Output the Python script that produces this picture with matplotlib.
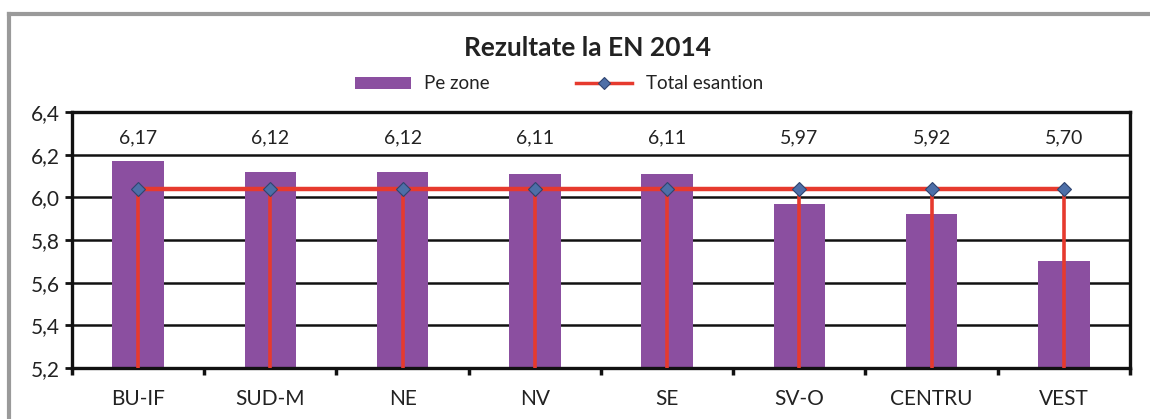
import matplotlib
matplotlib.use("Agg")
import matplotlib.pyplot as plt
from matplotlib.lines import Line2D
from matplotlib.patches import Patch
import numpy as np

plt.rcParams['font.family'] = ['Lato', 'DejaVu Sans']

categories = ["BU-IF", "SUD-M", "NE", "NV", "SE", "SV-O", "CENTRU", "VEST"]
zone_values = [6.17, 6.12, 6.12, 6.11, 6.11, 5.97, 5.92, 5.70]
value_labels = ["6,17", "6,12", "6,12", "6,11", "6,11", "5,97", "5,92", "5,70"]
total_values = [6.04, 6.04, 6.04, 6.04, 6.04, 6.04, 6.04, 6.04]
y_ticks = [5.2, 5.4, 5.6, 5.8, 6.0, 6.2, 6.4]
y_tick_labels = ["5,2", "5,4", "5,6", "5,8", "6,0", "6,2", "6,4"]

purple = "#8B4FA0"
red = "#E63A2E"
text_c = "#222222"

fig = plt.figure(figsize=(11.5, 4.19), dpi=100)
ax = fig.add_axes([0.0626, 0.1217, 0.92, 0.611])

x = np.arange(len(categories))
ax.set_ylim(5.2, 6.4)
ax.set_xlim(-0.5, len(categories) - 0.5)

ax.set_yticks(y_ticks)
ax.set_yticklabels(y_tick_labels)
ax.grid(axis='y', color='#111111', linewidth=1.8, zorder=0)
ax.set_axisbelow(True)

ax.bar(x, zone_values, width=0.39, color=purple, zorder=2, bottom=0)

# drop lines
ax.vlines(x, 5.2, total_values, color=red, linewidth=2.6, zorder=3)
ax.plot(x, total_values, color=red, linewidth=3.2, zorder=4,
        marker='D', markersize=7.5, markerfacecolor='#4D6FA8',
        markeredgecolor='#2E4470', markeredgewidth=0.8)

for xi, lab in zip(x, value_labels):
    ax.text(xi, 6.28, lab, ha='center', va='center', fontsize=14, color=text_c)

ax.set_xticks(x)
ax.set_xticklabels(categories, fontsize=15, color=text_c)
ax.tick_params(axis='x', which='major', length=0, pad=15)
ax.set_xticks(np.arange(-0.5, len(categories)), minor=True)
ax.tick_params(axis='x', which='minor', length=5, width=2.5, color='#111111', direction='out')
ax.tick_params(axis='y', length=5, width=2, color='#111111', direction='out',
               labelsize=15, labelcolor=text_c, pad=4)

for s in ax.spines.values():
    s.set_color('#111111')
    s.set_linewidth(2.4)

fig.text(0.511, 0.885, "Rezultate la EN 2014", ha='center', va='center',
         fontsize=19, fontweight='bold', color=text_c)

handles = [Patch(facecolor=purple, edgecolor='none'),
           Line2D([0], [0], color=red, linewidth=2.5, marker='D', markersize=6,
                  markerfacecolor='#4D6FA8', markeredgecolor='#2E4470', markeredgewidth=0.8)]
fig.legend(handles, ["Pe zone", "Total esantion"], ncol=2, loc='center',
           bbox_to_anchor=(0.486, 0.800), frameon=False, fontsize=13.5,
           handlelength=3.0, handleheight=0.6, handletextpad=0.7, columnspacing=4.6,
           labelcolor=text_c)

# outer gray frame
fig.add_artist(Line2D([0.008, 1.0], [1 - 14/419, 1 - 14/419], transform=fig.transFigure,
                      color='#9a9a9a', linewidth=3))
fig.add_artist(Line2D([0.008, 0.008], [0.0, 1 - 14/419], transform=fig.transFigure,
                      color='#9a9a9a', linewidth=3))

fig.savefig("out.png", dpi=100)
